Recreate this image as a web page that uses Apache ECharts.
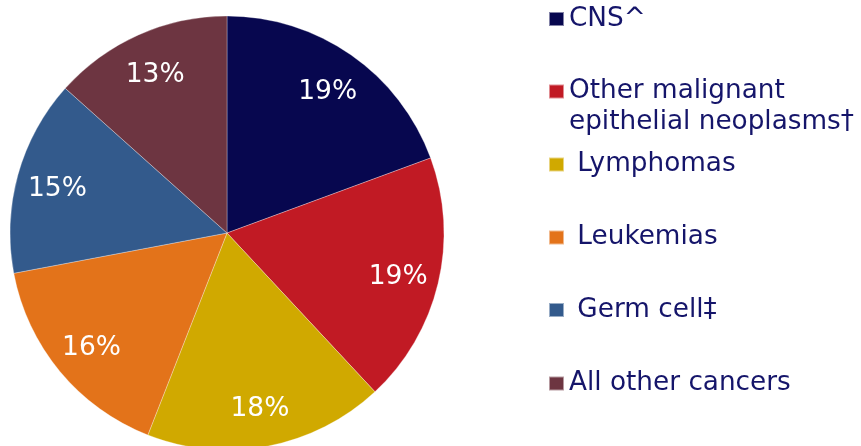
<!DOCTYPE html>
<html>
<head>
<meta charset="utf-8">
<script src="https://cdn.jsdelivr.net/npm/echarts@6/dist/echarts.min.js"></script>
<style>
html,body{margin:0;padding:0;background:#fff;}
#chart{width:861px;height:446px;}
</style>
</head>
<body>
<div id="chart"></div>
<script>
// Data (percent shares)
const categories = ['CNS^', 'Other malignant epithelial neoplasms†', 'Lymphomas', 'Leukemias', 'Germ cell‡', 'All other cancers'];
const shares = [19.4, 18.7, 17.9, 16.1, 14.6, 13.4];
const legendLabels = ['CNS^', '\u00a0\nOther malignant\nepithelial neoplasms†', ' Lymphomas', ' Leukemias', ' Germ cell‡', 'All other cancers'];
const colors = ['#07074f', '#c11a24', '#d0a900', '#e3731a', '#335a8c', '#6d3541'];

const iconCenters = [19, 91.5, 164.5, 237.5, 310, 383.5];
const LH = 31;
const textColor = '#15156a';

const legends = categories.map((name, i) => {
  const nLines = legendLabels[i].split('\n').length;
  return {
    data: [name],
    orient: 'vertical',
    left: 548,
    top: iconCenters[i] - nLines * LH / 2,
    padding: 0,
    itemWidth: 15,
    itemHeight: 14,
    itemGap: 6,
    icon: 'rect',
    selectedMode: false,
    formatter: () => legendLabels[i],
    textStyle: {
      fontFamily: 'DejaVu Sans',
      fontSize: 26.3,
      lineHeight: LH,
      color: textColor
    }
  };
});

const pieData = categories.map((name, i) => ({ name: name, value: shares[i], itemStyle: { color: colors[i] } }));
const labelData = categories.map((name, i) => ({ name: name, value: shares[i] }));

const chart = echarts.init(document.getElementById('chart'), null, { renderer: 'canvas' });
chart.setOption({
  animation: false,
  backgroundColor: '#ffffff',
  legend: legends,
  series: [
    {
      type: 'pie',
      center: [227, 233],
      radius: [0, 217],
      startAngle: 90,
      clockwise: true,
      avoidLabelOverlap: false,
      label: { show: false },
      labelLine: { show: false },
      itemStyle: { borderColor: 'rgba(255,255,255,0.5)', borderWidth: 0.6 },
      emphasis: { disabled: true },
      data: pieData
    },
    {
      type: 'pie',
      center: [227, 233],
      radius: [129, 217],
      startAngle: 90,
      clockwise: true,
      silent: true,
      avoidLabelOverlap: false,
      itemStyle: { color: 'rgba(0,0,0,0)' },
      emphasis: { disabled: true },
      label: {
        show: true,
        position: 'inside',
        offset: [0, 3],
        formatter: p => Math.round(p.value) + '%',
        fontFamily: 'DejaVu Sans',
        fontSize: 26.5,
        color: '#ffffff'
      },
      labelLine: { show: false },
      data: labelData
    }
  ]
});
</script>
</body>
</html>
